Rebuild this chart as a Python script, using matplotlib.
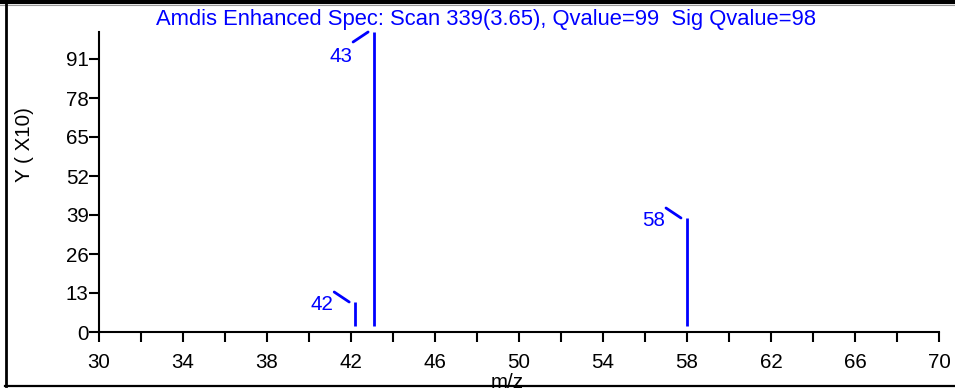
import matplotlib
matplotlib.use("Agg")
import matplotlib.pyplot as plt
from matplotlib.lines import Line2D
from matplotlib.transforms import offset_copy

# ---- data ----
mz = [42.2, 43.1, 58.0]
intensity = [10, 100, 38]          # in units of X10
peak_labels = ["42", "43", "58"]
yticks = [0, 13, 26, 39, 52, 65, 78, 91]
xticks_major = list(range(30, 71, 4))
xticks_minor = list(range(30, 71, 2))
title = "Amdis Enhanced Spec: Scan 339(3.65), Qvalue=99  Sig Qvalue=98"
xlabel = "m/z"
ylabel = "Y ( X10)"

W, H = 955, 388
DPI = 100
BLUE = "#0000ff"
plt.rcParams["font.family"] = ["Liberation Sans", "DejaVu Sans"]
FS = 14.8

fig = plt.figure(figsize=(W / DPI, H / DPI), dpi=DPI)
ax = fig.add_axes([99 / W, 1 - 332 / H, 840 / W, 300 / H])
ax.set_xlim(30, 70)
ax.set_ylim(0, 100)
for s in ("top", "right"):
    ax.spines[s].set_visible(False)
for s in ("left", "bottom"):
    ax.spines[s].set_linewidth(1.5)

ax.set_xticks(xticks_major)
ax.set_xticks(xticks_minor, minor=True)
ax.set_yticks(yticks)
ax.tick_params(axis="both", which="both", direction="out", length=7, width=1.5)
ax.tick_params(axis="x", which="major", pad=8, labelsize=FS)
ax.tick_params(axis="y", which="major", pad=0.5, labelsize=FS)

# peaks
ax.vlines(mz, 2, intensity, colors=BLUE, linewidth=2)

for x, y, lab in zip(mz, intensity, peak_labels):
    top = y >= 95
    sgn = -1 if top else 1
    start = offset_copy(ax.transData, fig=fig, x=-21, y=10 * sgn, units="dots")
    end = offset_copy(ax.transData, fig=fig, x=-6, y=0, units="dots")
    ax.annotate("", xy=(x, y), xycoords=end, xytext=(x, y), textcoords=start,
                arrowprops=dict(arrowstyle="-", color=BLUE, lw=2,
                                shrinkA=0, shrinkB=0), annotation_clip=False)
    tpos = offset_copy(ax.transData, fig=fig, x=-33, y=-24 if top else -3, units="dots")
    ax.text(x, y, lab, transform=tpos, ha="center", va="center",
            color=BLUE, fontsize=FS)

fig.text(486 / W, 1 - 20 / H, title, ha="center", va="center", color=BLUE, fontsize=15.8)
fig.text(24 / W, 1 - 145 / H, ylabel, rotation=90, ha="center", va="center", fontsize=FS)
fig.text(507 / W, 1 - 388 / H, xlabel, ha="center", va="baseline", fontsize=FS)

# frame lines
fig.add_artist(Line2D([0, 1], [1 - 2 / H, 1 - 2 / H], color="black", lw=3, transform=fig.transFigure))
fig.add_artist(Line2D([0, 1], [1 - 5 / H, 1 - 5 / H], color="#999999", lw=0.8, transform=fig.transFigure))
fig.add_artist(Line2D([5.5 / W, 5.5 / W], [1 - 2 / H, 1 - 386 / H], color="black", lw=2, transform=fig.transFigure))
fig.add_artist(Line2D([5 / W, 1], [1 - 386 / H, 1 - 386 / H], color="black", lw=1.6, transform=fig.transFigure, zorder=10))

fig.savefig("out.png", dpi=DPI)
